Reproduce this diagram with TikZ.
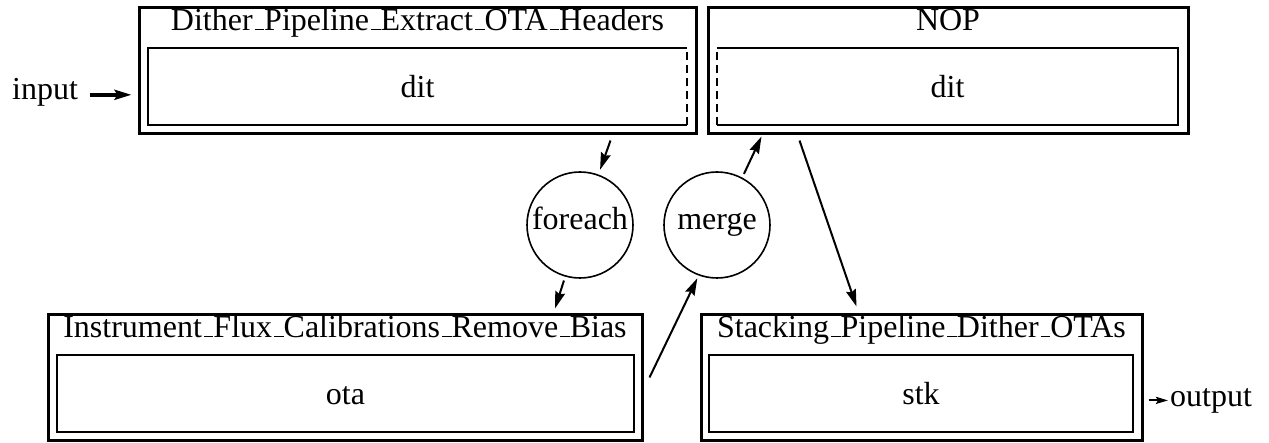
\documentclass[tikz,border=0pt]{standalone}
\usepackage{fontspec}
\setmainfont{Liberation Serif}
\usetikzlibrary{arrows.meta}
\usetikzlibrary{calc}

% short rule underscore, as in classic LaTeX
\newcommand{\usc}{\kern.06em\vbox{\hrule height 1.3pt width.3em}}

\tikzset{
  stage/.style={draw,line width=3pt,inner sep=0pt,minimum height=126pt},
  inbox/.style={inner sep=0pt,minimum height=77pt,text height=22pt,text depth=0pt},
  inline/.style={line width=2pt},
  split/.style={line width=2pt,dash pattern=on 8pt off 5pt},
  op/.style={draw,circle,line width=1.6pt,inner sep=0pt,minimum size=106pt,text height=22pt,text depth=12pt},
  flow/.style={line width=2pt,-{Stealth[length=17pt,width=10pt,inset=2pt]}},
}

\begin{document}
\begin{tikzpicture}[x=1pt,y=1pt,every node/.style={font=\fontsize{32}{38}\selectfont}]
\useasboundingbox (0,0) rectangle (1269,442);

% outer stage boxes
\node[stage,minimum width=557pt] (dither) at (417.5,371) {};
\node[stage,minimum width=480pt] (nop) at (948,371) {};
\node[stage,minimum width=594pt,minimum height=125pt] (instr) at (345,64.5) {};
\node[stage,minimum width=441pt,minimum height=125pt] (stack) at (921.5,64.5) {};

% titles
\node[anchor=base] (ditherttl) at ($(dither.north)+(0,-24)$) {Dither\usc Pipeline\usc Extract\usc OTA\usc Headers};
\node[anchor=base] (nopttl) at ($(nop.north)+(0,-24)$) {NOP};
\node[anchor=base] (instrttl) at ($(instr.north)+(0,-24)$) {Instrument\usc Flux\usc Calibrations\usc Remove\usc Bias};
\node[anchor=base] (stackttl) at ($(stack.north)+(0,-24)$) {Stacking\usc Pipeline\usc Dither\usc OTAs};

% inner boxes
\node[inbox,minimum width=539pt] (ditherdit) at (417.5,355.5) {dit};
\draw[inline] (ditherdit.north east) -- (ditherdit.north west) -- (ditherdit.south west) -- (ditherdit.south east);
\draw[split] (ditherdit.south east) -- (ditherdit.north east);
\node[inbox,minimum width=461pt] (nopdit) at (947.5,355.5) {dit};
\draw[inline] (nopdit.north west) -- (nopdit.north east) -- (nopdit.south east) -- (nopdit.south west);
\draw[split] (nopdit.south west) -- (nopdit.north west);
\node[inbox,draw,inline,minimum width=577pt] (instrota) at (345.5,48.5) {ota};
\node[inbox,draw,inline,minimum width=424pt] (stackstk) at (921,48.5) {stk};

% operators
\node[op] (foreachop) at (580,217) {foreach};
\node[op] (mergeop) at (717,217) {merge};

% edges
\draw[flow,shorten >=5pt] ($(dither.south east)+(-87,-5)$) -- (foreachop.70);
\draw[flow,shorten <=4pt] (foreachop.-106) -- ($(instr.north)+(210,5)$);
\draw[flow,shorten >=3pt] ($(instr.east)+(6,0)$) -- (mergeop.-110);
\draw[flow,shorten <=4pt] (mergeop.62) -- ($(nop.south west)+(55,-1)$);
\draw[flow] ($(nop.south west)+(93,-5)$) -- ($(stack.north west)+(157,7)$);

% input / output
\node[anchor=base west,inner sep=0pt] (input) at (12,342) {input};
\draw[line width=3.5pt,-{Stealth[length=17pt,width=10pt,inset=3pt]},shorten <=12pt,shorten >=6pt] ([yshift=-2pt]input.east) -- ([yshift=-2pt]input.east -| dither.west);
\node[anchor=base west,inner sep=0pt] (output) at (1170,36) {output};
\draw[line width=2pt,-{Stealth[length=12pt,width=7pt,inset=2pt]},shorten <=5pt,shorten >=2pt] (output.west -| stack.east) -- (output.west);

\end{tikzpicture}
\end{document}
